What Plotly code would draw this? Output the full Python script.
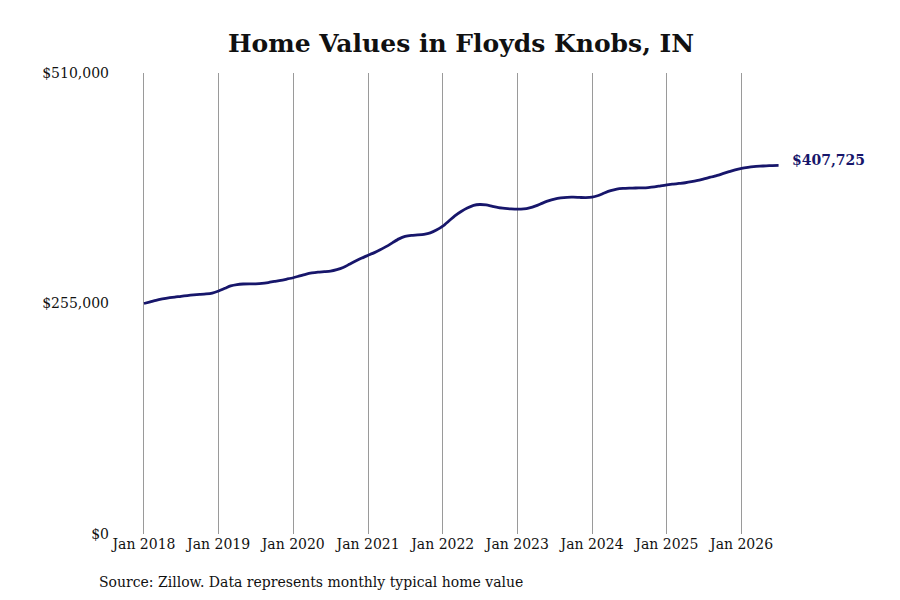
import pandas as pd
import plotly.graph_objects as go

# Monthly typical home value, Jan 2018 .. Jul 2026
start_month = '2018-01-01'
home_values = [
    255000, 256800, 258500, 260000, 261200, 262000, 263000, 263800, 264500, 265000, 265600, 266600,
    268800, 271800, 274500, 276000, 276600, 276800, 276800, 277200, 278200, 279400, 280600, 282000,
    283500, 285500, 287300, 288800, 289700, 290200, 290800, 292400, 294800, 298300, 302000, 305300,
    308300, 311300, 314500, 318200, 322300, 326500, 329200, 330400, 330900, 331600, 333200, 336200,
    340500, 346500, 352000, 356800, 360600, 363600, 364500, 364000, 362400, 361000, 360200, 359600,
    359300, 359600, 360800, 363000, 365800, 368500, 370500, 371800, 372500, 372600, 372300, 372100,
    372600, 374500, 377200, 379800, 381500, 382300, 382600, 382800, 383000, 383300, 384000, 385200,
    386300, 387100, 387800, 388600, 389700, 391200, 392900, 394700, 396500, 398600, 400800, 402900,
    404500, 405600, 406400, 406900, 407300, 407600, 407725,
]
y_tick_values = [0, 255000, 510000]
y_tick_labels = ['$0', '$255,000', '$510,000']
x_tick_dates = [f'{yr}-01-01' for yr in range(2018, 2027)]
x_tick_labels = [f'Jan {yr}' for yr in range(2018, 2027)]

dates = pd.date_range(start_month, periods=len(home_values), freq='MS')

line_color = '#17166b'
serif = 'DejaVu Serif'

# plot area in figure pixels
W, H = 900, 600
left, right, top, bottom = 102, 772, 65, 526

fig = go.Figure()

fig.add_trace(go.Scatter(
    x=dates,
    y=home_values,
    mode='lines',
    line=dict(color=line_color, width=2.8, shape='spline', smoothing=0.6),
    hoverinfo='skip',
    showlegend=False,
))

# End-of-line value label
fig.add_annotation(
    x=dates[-1], y=home_values[-1],
    text=f'<b>${home_values[-1]:,.0f}</b>',
    showarrow=False, xanchor='left', yanchor='middle',
    xshift=11, yshift=5,
    font=dict(family=serif, size=14, color=line_color),
)

# Source note
fig.add_annotation(
    x=(89 - left) / (right - left), y=-(574 - bottom) / (bottom - top),
    xref='paper', yref='paper',
    text='Source: Zillow. Data represents monthly typical home value',
    showarrow=False, xanchor='left', yanchor='middle',
    font=dict(family=serif, size=14, color='#111111'),
)

fig.update_layout(
    width=W, height=H,
    margin=dict(l=left, r=W - right, t=top, b=H - bottom),
    paper_bgcolor='white', plot_bgcolor='white',
    title=dict(
        text='<b>Home Values in Floyds Knobs, IN</b>',
        x=453 / W, xanchor='center', y=1 - 35 / H, yanchor='middle',
        font=dict(family=serif, size=25, color='#111111'),
    ),
    font=dict(family=serif, size=14, color='#111111'),
    xaxis=dict(
        type='date',
        range=['2017-07-19', '2026-07-08'],
        tickvals=x_tick_dates, ticktext=x_tick_labels,
        showgrid=True, gridcolor='#9a9a9a', gridwidth=1,
        ticks='', showline=False, zeroline=False,
        tickfont=dict(family=serif, size=14),
    ),
    yaxis=dict(
        range=[0, 510000],
        tickvals=y_tick_values, ticktext=y_tick_labels,
        showgrid=False, zeroline=False, showline=False,
        ticks='', tickfont=dict(family=serif, size=14),
    ),
)

fig.write_html('out.html')
